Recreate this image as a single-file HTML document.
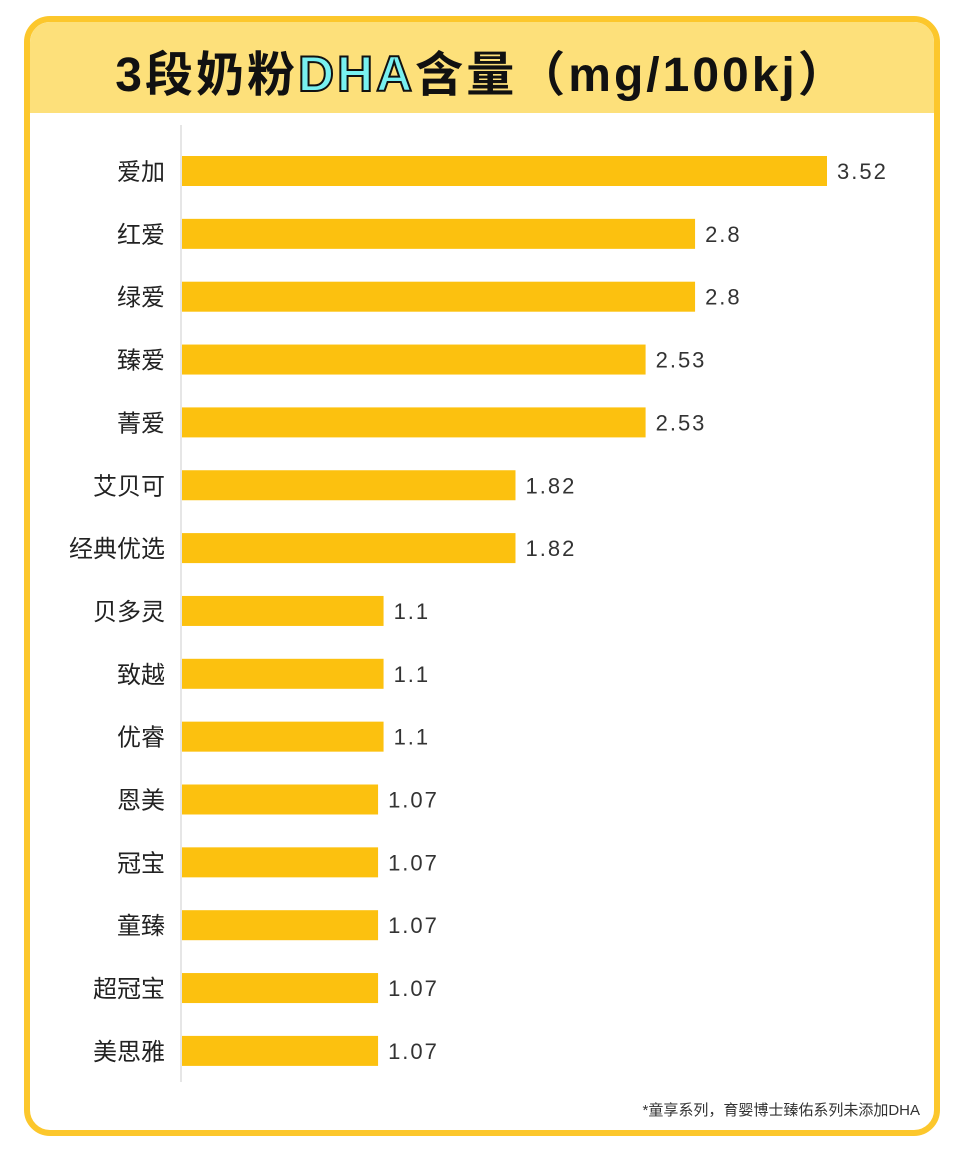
<!DOCTYPE html>
<html><head><meta charset="utf-8"><style>
body{margin:0;background:#fff;width:966px;height:1157px;overflow:hidden;font-family:"Liberation Sans","Noto Sans CJK SC",sans-serif;}
#card{position:absolute;left:24px;top:16px;width:904px;height:1108px;border:6px solid #fcc72c;border-radius:26px;overflow:hidden;background:#fff;}
#head{position:absolute;left:0;top:0;width:100%;height:91px;background:#fde07a;}
#title{position:absolute;left:0;width:100%;top:13px;text-align:center;font-size:48px;font-weight:bold;color:#111;letter-spacing:3px;}
.dha{color:#78f0f0;-webkit-text-stroke:2px #111;font-size:50px;}
#note{position:absolute;right:14px;bottom:10px;font-size:15px;color:#333;}
</style></head><body>
<div id="card">
<div id="head"></div>
<div id="title">3段奶粉<span class="dha">DHA</span>含量（mg/100kj）</div>
<div id="note">*童享系列，育婴博士臻佑系列未添加DHA</div>
</div>
<svg id="chart" width="966" height="1157" style="position:absolute;left:0;top:0"></svg>
<script>
const categories=["爱加","红爱","绿爱","臻爱","菁爱","艾贝可","经典优选","贝多灵","致越","优睿","恩美","冠宝","童臻","超冠宝","美思雅"];
const values=[3.52,2.8,2.8,2.53,2.53,1.82,1.82,1.1,1.1,1.1,1.07,1.07,1.07,1.07,1.07];
const labels=["3.52","2.8","2.8","2.53","2.53","1.82","1.82","1.1","1.1","1.1","1.07","1.07","1.07","1.07","1.07"];
const NS="http://www.w3.org/2000/svg";
const svg=document.getElementById('chart');
const x0=182,scale=645/3.52;
const xPos=v=>x0+v*scale;
const yPos=i=>171+i*62.85;
function mk(t,a){const e=document.createElementNS(NS,t);for(const k in a)e.setAttribute(k,a[k]);svg.appendChild(e);return e;}
const ax=mk('line',{x1:181,x2:181,y1:125,y2:1082,stroke:'#ddd','stroke-width':1.5});


categories.forEach((c,i)=>{
const y=yPos(i);
const r=mk('rect',{x:x0,y:y-15,width:xPos(values[i])-x0,height:30,fill:'#fcc10f'});


const t=mk('text',{x:165,y:y+9,'text-anchor':'end','font-size':24,fill:'#222'});
t.textContent=c;


const v=mk('text',{x:xPos(values[i])+10,y:y+8,'font-size':22,fill:'#333','letter-spacing':'2'});
v.textContent=labels[i];


});
</script>
</body></html>
